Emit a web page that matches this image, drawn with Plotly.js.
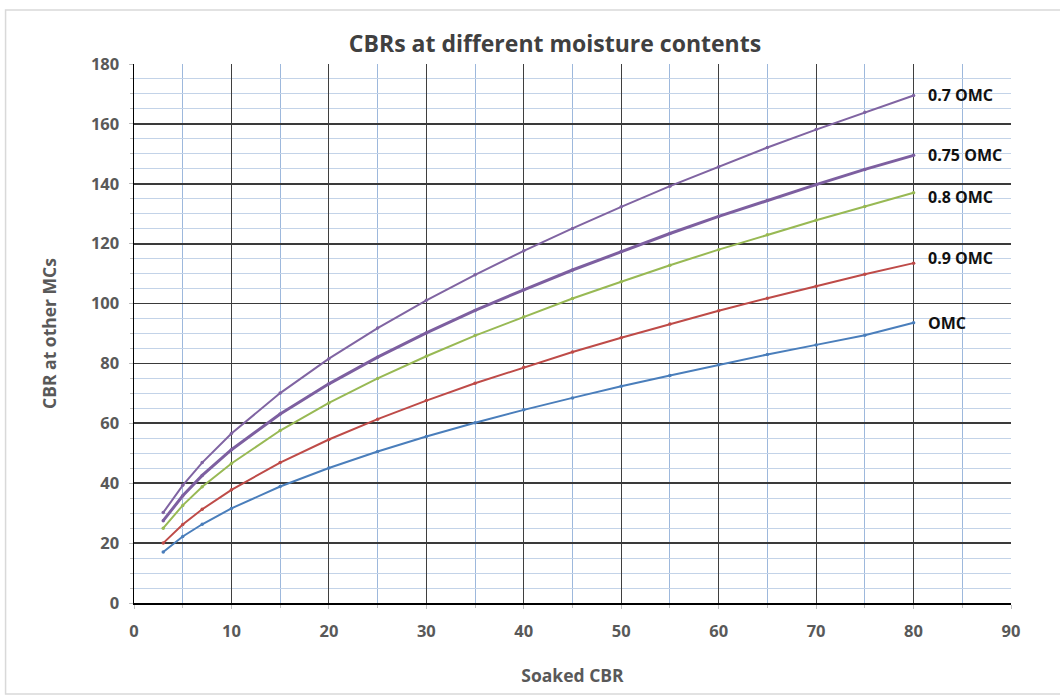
<!DOCTYPE html>
<html>
<head>
<meta charset="utf-8">
<script src="https://cdn.plot.ly/plotly-3.0.1.min.js"></script>
<style>
html,body{margin:0;padding:0;background:#fff;}
#chart{width:1060px;height:698px;}
</style>
</head>
<body>
<div id="chart"></div>
<script>
// Soaked CBR values (x)
const soakedCBR = [3, 5, 7, 10, 15, 20, 25, 30, 35, 40, 45, 50, 55, 60, 65, 70, 75, 80];
// CBR at other moisture contents (y)
const cbrOMC    = [17.0, 22.2, 26.3, 31.6, 38.9, 45.1, 50.6, 55.6, 60.2, 64.5, 68.5, 72.4, 76.0, 79.6, 83.0, 86.2, 89.4, 93.6];
const cbr090OMC = [20.0, 26.2, 31.3, 37.8, 46.9, 54.6, 61.4, 67.6, 73.4, 78.7, 83.8, 88.6, 93.2, 97.6, 101.8, 105.8, 109.8, 113.5];
const cbr080OMC = [25.0, 32.6, 38.8, 46.6, 57.6, 66.8, 75.0, 82.4, 89.3, 95.6, 101.7, 107.3, 112.8, 118.0, 123.0, 127.8, 132.4, 137.0];
const cbr075OMC = [27.5, 35.8, 42.6, 51.2, 63.1, 73.2, 82.1, 90.2, 97.7, 104.6, 111.2, 117.4, 123.4, 129.1, 134.5, 139.7, 144.8, 149.5];
const cbr070OMC = [30.2, 39.3, 46.9, 56.6, 70.1, 81.6, 91.8, 101.1, 109.6, 117.6, 125.1, 132.3, 139.2, 145.7, 152.1, 158.1, 163.9, 169.5];
const seriesNames = ["OMC", "0.9 OMC", "0.8 OMC", "0.75 OMC", "0.7 OMC"];
const xTickVals = [0, 10, 20, 30, 40, 50, 60, 70, 80, 90];
const yTickVals = [0, 20, 40, 60, 80, 100, 120, 140, 160, 180];

const seriesData = [cbrOMC, cbr090OMC, cbr080OMC, cbr075OMC, cbr070OMC];
const colors = ["#4a7ebb", "#be4b48", "#98b954", "#7d5fa0", "#8064a2"];
const widths = [2, 2, 2, 3, 2];
const labelShift = [0, 5, -4, 0, 0];

const traces = seriesData.map((ys, i) => ({
  x: soakedCBR, y: ys, name: seriesNames[i], type: "scatter", mode: "lines+markers",
  line: {color: colors[i], width: widths[i]},
  marker: {color: colors[i], size: 3.5},
  showlegend: false
}));

const annotations = seriesData.map((ys, i) => ({
  x: soakedCBR[soakedCBR.length - 1], y: ys[ys.length - 1], xref: "x", yref: "y",
  text: seriesNames[i], showarrow: false, xanchor: "left", yanchor: "middle",
  xshift: 12, yshift: labelShift[i],
  font: {family: "Open Sans, sans-serif", size: 16, color: "#111", weight: "bold"}
}));

const L = 133.5, R = 1011, T = 64, B = 603;
const pw = R - L, ph = B - T;
const shapes = [{
  type: "rect", xref: "paper", yref: "paper", layer: "below",
  x0: (5 - L) / pw, x1: (1070 - L) / pw, y0: (B - 694) / ph, y1: (B - 10) / ph,
  line: {color: "#d9d9d9", width: 1.5}, fillcolor: "rgba(0,0,0,0)"
}];

const axisFont = {family: "Open Sans, sans-serif", size: 16.5, color: "#595959", weight: "bold"};
const titleFont = {family: "Open Sans, sans-serif", size: 17.5, color: "#595959", weight: "bold"};

const layout = {
  width: 1060, height: 698,
  margin: {l: L, r: 1060 - R, t: T, b: 698 - B, pad: 0},
  paper_bgcolor: "#fff", plot_bgcolor: "#fff",
  title: {text: "CBRs at different moisture contents", x: 555 / 1060, xref: "container", xanchor: "center",
          y: 1 - 44 / 698, yref: "container", yanchor: "middle",
          font: {family: "Open Sans, sans-serif", size: 23, color: "#404040", weight: "bold"}},
  xaxis: {
    range: [0, 90], tickvals: xTickVals, ticktext: xTickVals.map(String),
    showgrid: true, gridcolor: "#3f3f3f", gridwidth: 1.2,
    minor: {dtick: 5, tick0: 0, showgrid: true, gridcolor: "#9db8dc", gridwidth: 1, ticks: "outside", ticklen: 3, tickcolor: "#bfbfbf"},
    showline: true, linecolor: "#000", linewidth: 1.5, mirror: false,
    ticks: "outside", ticklen: 4, tickcolor: "#bfbfbf",
    zeroline: false, tickfont: axisFont, ticklabelstandoff: 9,
    title: {text: "Soaked CBR", font: titleFont, standoff: 28}
  },
  yaxis: {
    range: [0, 180], tickvals: yTickVals, ticktext: yTickVals.map(String),
    showgrid: true, gridcolor: "#3a3a3a", gridwidth: 1.8,
    minor: {dtick: 5, tick0: 0, showgrid: true, gridcolor: "#c3d3e8", gridwidth: 1, ticks: "outside", ticklen: 3, tickcolor: "#bfbfbf"},
    showline: true, linecolor: "#000", linewidth: 1.5,
    ticks: "outside", ticklen: 4, tickcolor: "#bfbfbf",
    zeroline: false, tickfont: axisFont, ticklabelstandoff: 6,
    title: {text: "CBR at other MCs", font: titleFont, standoff: 30}
  },
  annotations: annotations,
  shapes: shapes
};

Plotly.newPlot("chart", traces, layout, {displayModeBar: false, staticPlot: true});
</script>
</body>
</html>
